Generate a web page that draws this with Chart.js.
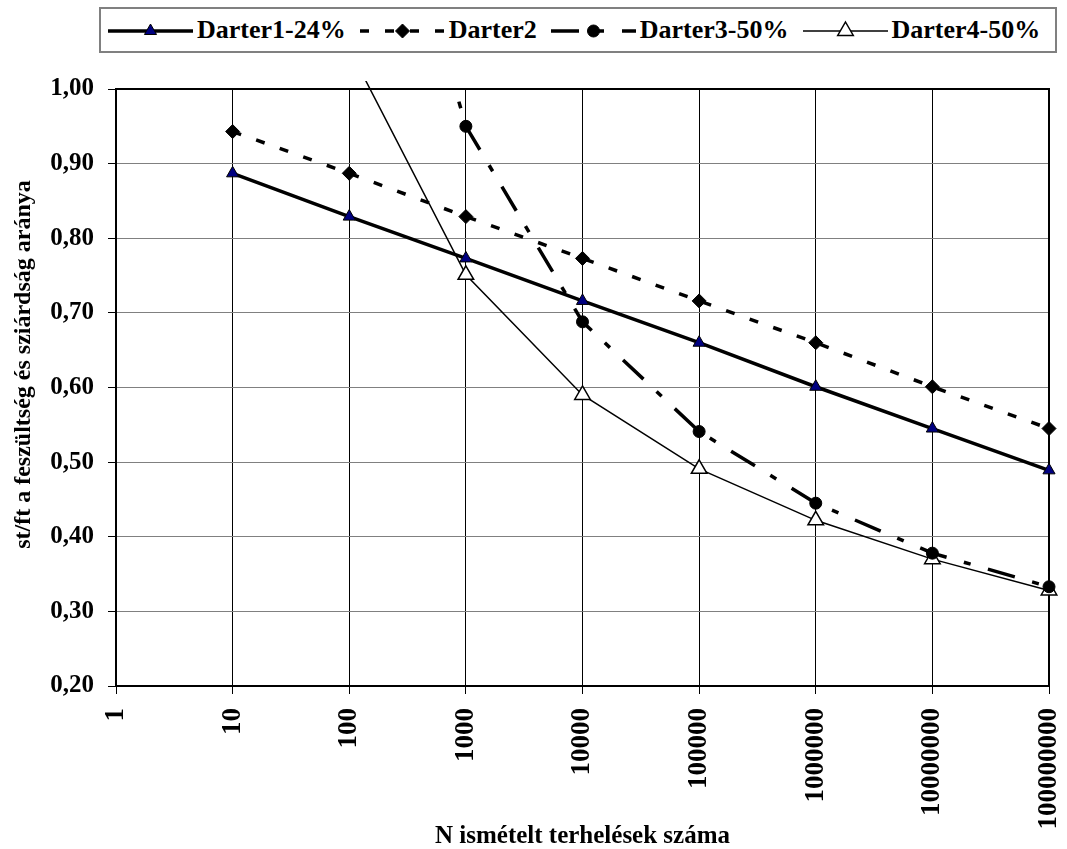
<!DOCTYPE html>
<html>
<head>
<meta charset="utf-8">
<script src="https://cdn.jsdelivr.net/npm/chart.js@4.4.0/dist/chart.umd.min.js"></script>
<style>
  body { margin: 0; background: #fff; }
  #wrap { position: relative; width: 1067px; height: 849px; }
  #legend {
    position: absolute; left: 99px; top: 7px; width: 958px; height: 46px;
    box-sizing: border-box; border: 2px solid #808080; background: #fff;
    display: flex; align-items: center; gap: 14px; padding-left: 7px;
    font: bold 26px "Liberation Serif", "Times New Roman", serif; color: #000;
  }
  .item { display: flex; align-items: center; gap: 4px; white-space: nowrap; }
</style>
</head>
<body>
<div id="wrap">
  <canvas id="chart"></canvas>
  <div id="legend"></div>
</div>
<script>
// N values (the last point lies past the axis end, as in the original)
const nCycles = [10, 100, 1000, 10000, 100000, 1000000, 10000000, 100000000, 1000000000];
const darter1 = [0.887, 0.829, 0.773, 0.716, 0.660, 0.601, 0.545, 0.489, 0.433];
const darter2 = [0.943, 0.887, 0.829, 0.773, 0.716, 0.660, 0.601, 0.545, 0.489];
const darter3 = [null, 1.50, 0.950, 0.688, 0.541, 0.445, 0.378, 0.333, 0.290];
const darter4 = [null, 1.054, 0.751, 0.590, 0.491, 0.422, 0.370, 0.328, 0.290];
const seriesNames = ['Darter1-24%', 'Darter2', 'Darter3-50%', 'Darter4-50%'];
const xTickValues = [1, 10, 100, 1000, 10000, 100000, 1000000, 10000000, 100000000];
const yTitle = 'st/ft a feszültség és sziárdság aránya';
const xTitle = 'N ismételt terhelések száma';

const seriesValues = [darter1, darter2, darter3, darter4];
const styles = [
  { width: 3.5, dash: [], point: 'triangle', r: 7, fill: '#000080', pw: 1 },
  { width: 3.5, dash: [9, 16], point: 'rectRot', r: 7, fill: '#000', pw: 1 },
  { width: 3.5, dash: [28, 18, 7, 18], point: 'circle', r: 6, fill: '#000', pw: 1 },
  { width: 1.5, dash: [], point: 'triangle', r: 9, fill: '#fff', pw: 1.5 }
];
const clipTop = [8, 8, 3, 8];
const fontFamily = '"Liberation Serif", "Times New Roman", serif';

Chart.defaults.font.family = fontFamily;
Chart.defaults.font.weight = 'bold';
Chart.defaults.color = '#000';

const datasets = seriesNames.map((name, i) => {
  const pts = [];
  seriesValues[i].forEach((v, j) => { if (v !== null) pts.push({ x: nCycles[j], y: v }); });
  const s = styles[i];
  return {
    label: name,
    data: pts,
    borderColor: '#000',
    borderWidth: s.width,
    borderDash: s.dash,
    borderCapStyle: 'butt',
    pointStyle: s.point,
    pointRadius: s.r,
    pointHoverRadius: s.r,
    pointBackgroundColor: s.fill,
    pointBorderColor: '#000',
    pointBorderWidth: s.pw,
    tension: 0,
    clip: { left: 0, top: clipTop[i], right: 11, bottom: 0 }
  };
});

// frame round the plot area + the vertical axis title (sits a bit above centre in the original)
const plotFrame = {
  id: 'plotFrame',
  beforeDatasetsDraw(chart) {
    const { ctx, chartArea: a } = chart;
    ctx.save();
    ctx.strokeStyle = '#000';
    ctx.lineWidth = 2;
    ctx.strokeRect(a.left, a.top, a.right - a.left, a.bottom - a.top);
    ctx.restore();
  },
  afterDraw(chart) {
    const { ctx, chartArea: a } = chart;
    ctx.save();
    ctx.translate(24, (a.top + a.bottom) / 2 - 23);
    ctx.rotate(-Math.PI / 2);
    ctx.font = 'bold 24px ' + fontFamily;
    ctx.fillStyle = '#000';
    ctx.textAlign = 'center';
    ctx.textBaseline = 'middle';
    ctx.fillText(yTitle, 0, 0);
    ctx.restore();
  }
};

new Chart(document.getElementById('chart'), {
  type: 'line',
  data: { datasets },
  options: {
    responsive: true,
    maintainAspectRatio: false,
    animation: false,
    layout: { padding: { left: 0, top: 89, right: 18, bottom: 0 } },
    plugins: { legend: { display: false }, tooltip: { enabled: false } },
    scales: {
      x: {
        type: 'logarithmic',
        min: 1,
        max: 100000000,
        afterBuildTicks: (scale) => { scale.ticks = xTickValues.map(v => ({ value: v })); },
        afterFit: (scale) => {
          scale.height = 163;
          scale.paddingLeft = 0;
          scale.paddingRight = 0;
        },
        grid: { color: '#000', tickColor: '#000', lineWidth: 1, tickLength: 8 },
        border: { display: false },
        ticks: {
          autoSkip: false,
          minRotation: 90,
          maxRotation: 90,
          padding: 14,
          font: { size: 27, weight: 'bold' },
          callback: (v) => String(v)
        },
        title: {
          display: true,
          text: xTitle,
          font: { size: 25, weight: 'bold', lineHeight: 1 },
          padding: { top: 0, bottom: 0 }
        }
      },
      y: {
        min: 0.2,
        max: 1.0,
        afterFit: (scale) => {
          scale.width = 116;
          scale.paddingTop = 0;
          scale.paddingBottom = 0;
        },
        grid: { color: '#808080', tickColor: '#000', lineWidth: 1, tickLength: 8 },
        border: { display: false },
        ticks: {
          stepSize: 0.1,
          padding: 14,
          font: { size: 25, weight: 'bold' },
          callback: (v) => v.toFixed(2).replace('.', ',')
        }
      }
    }
  },
  plugins: [plotFrame]
});

// legend built from the same series styles
function markerSvg(s, cx, cy) {
  const r = s.r;
  let shape;
  if (s.point === 'triangle') {
    shape = `<polygon points="${cx},${cy - r} ${cx + r * 0.866},${cy + r / 2} ${cx - r * 0.866},${cy + r / 2}"`;
  } else if (s.point === 'rectRot') {
    shape = `<polygon points="${cx},${cy - r} ${cx + r},${cy} ${cx},${cy + r} ${cx - r},${cy}"`;
  } else {
    shape = `<circle cx="${cx}" cy="${cy}" r="${r}"`;
  }
  return shape + ` fill="${s.fill}" stroke="#000" stroke-width="${s.pw}"/>`;
}

const legend = document.getElementById('legend');
seriesNames.forEach((name, i) => {
  const s = styles[i];
  const item = document.createElement('div');
  item.className = 'item';
  item.innerHTML = `
    <svg width="85" height="24" viewBox="0 0 85 24">
      <line x1="0" y1="13" x2="85" y2="13" stroke="#000" stroke-width="${s.width}" stroke-dasharray="${s.dash.join(' ')}"/>
      ${markerSvg(s, 42.5, 13)}
    </svg>
    <span>${name}</span>`;
  legend.appendChild(item);
});
</script>
</body>
</html>
